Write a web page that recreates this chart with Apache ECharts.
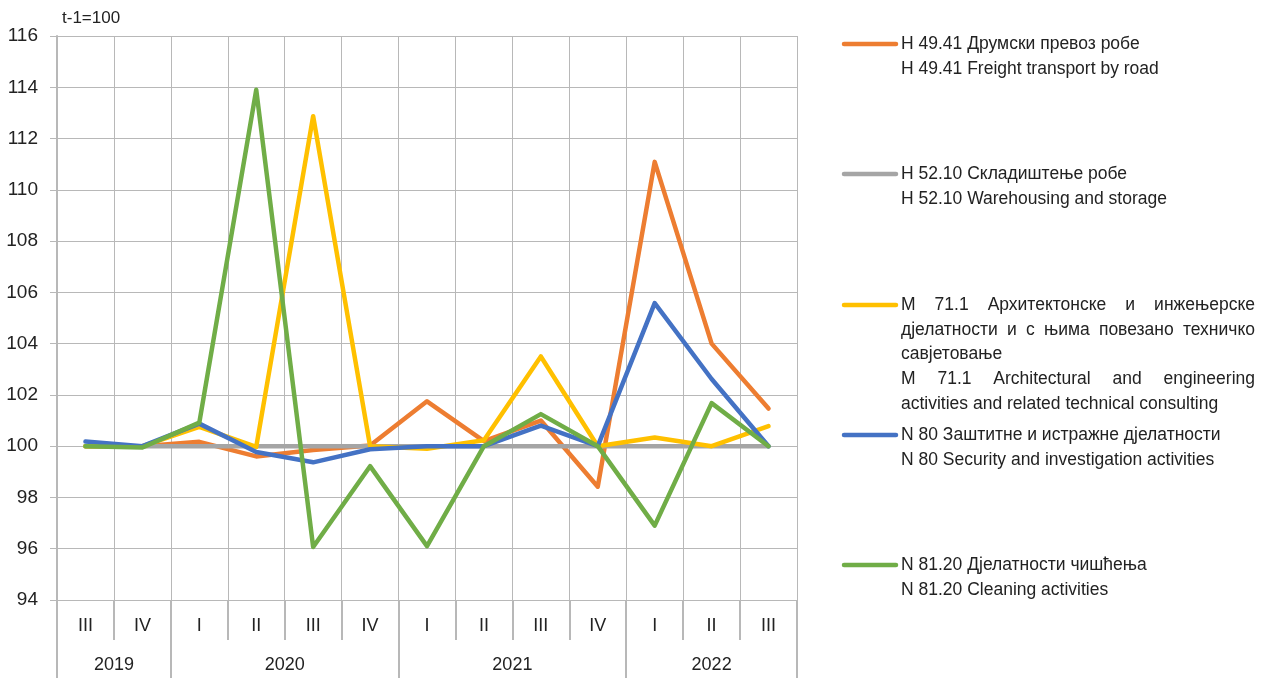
<!DOCTYPE html>
<html>
<head>
<meta charset="utf-8">
<script src="https://cdn.jsdelivr.net/npm/echarts@6/dist/echarts.min.js"></script>
<style>
html, body { margin: 0; padding: 0; background: #fff; }
#main { width: 1266px; height: 678px; }
</style>
</head>
<body>
<div id="main"></div>
<script>
var quarters = ['III', 'IV', 'I', 'II', 'III', 'IV', 'I', 'II', 'III', 'IV', 'I', 'II', 'III'];
var years = ['2019', '2020', '2021', '2022'];
var yearSpans = [2, 4, 4, 3];

var roadFreight  = [100, 100, 100.17, 99.6, 99.85, 100.03, 101.75, 100.2, 101.0, 98.42, 111.09, 104.0, 101.47];
var warehousing  = [100, 100, 100, 100, 100, 100, 100, 100, 100, 100, 100, 100, 100];
var architecture = [100, 100, 100.75, 99.97, 112.87, 100.0, 99.9, 100.23, 103.5, 100.0, 100.34, 100.0, 100.78];
var security     = [100.18, 100.0, 100.88, 99.77, 99.37, 99.88, 100.0, 100.0, 100.8, 100.0, 105.58, 102.62, 100.0];
var cleaning     = [100.0, 99.95, 100.92, 113.9, 96.07, 99.22, 96.1, 100.0, 101.25, 100.0, 96.9, 101.68, 100.0];

var seriesNames = [
    'H 49.41 Друмски превоз робе',
    'H 52.10 Складиштење робе',
    'M 71.1 Архитектонске и инжењерске дјелатности и с њима повезано техничко савјетовање',
    'N 80 Заштитне и истражне дјелатности',
    'N 81.20 Дјелатности чишћења'
];
var legendLines = [
    ['H 49.41 Друмски превоз робе', 'H 49.41 Freight transport by road'],
    ['H 52.10 Складиштење робе', 'H 52.10 Warehousing and storage'],
    ['M 71.1 Архитектонске и инжењерске', 'дјелатности и с њима повезано техничко', 'савјетовање',
     'M 71.1 Architectural and engineering', 'activities and related technical consulting'],
    ['N 80 Заштитне и истражне дјелатности', 'N 80 Security and investigation activities'],
    ['N 81.20 Дјелатности чишћења', 'N 81.20 Cleaning activities']
];
var justified = [[], [], [0, 1, 3], [], []];
var colors = ['#ED7D31', '#A5A5A5', '#FFC000', '#4472C4', '#70AD47'];
var allData = [roadFreight, warehousing, architecture, security, cleaning];

// year axis: half-quarter slots so labels can sit between categories
var yearSlots = [];
for (var i = 0; i <= quarters.length * 2; i++) yearSlots.push('');
var yearTicks = {};
var pos = 0;
yearTicks[0] = true;
years.forEach(function (y, k) {
    yearSlots[pos + yearSpans[k]] = y;
    pos += yearSpans[k] * 2;
    yearTicks[pos] = true;
});

var FONT = '17.5px "Liberation Sans", Arial, sans-serif';
var TEXT_COLOR = '#222';
var measure = document.createElement('canvas').getContext('2d');
measure.font = FONT;

var legendTop = [44, 174, 305, 435, 565];
var lineGap = 24.7;
var textX = 901, textRight = 1255;
var graphics = [];
legendLines.forEach(function (lines, k) {
    var y0 = legendTop[k];
    graphics.push({
        type: 'line',
        shape: { x1: 844, y1: y0, x2: 896, y2: y0 },
        style: { stroke: colors[k], lineWidth: 4.5, lineCap: 'round' }
    });
    lines.forEach(function (line, j) {
        var y = y0 + j * lineGap;
        if (justified[k].indexOf(j) >= 0) {
            var words = line.split(' ');
            var total = 0;
            words.forEach(function (w) { total += measure.measureText(w).width; });
            var gap = (textRight - textX - total) / (words.length - 1);
            var x = textX;
            words.forEach(function (w) {
                graphics.push({
                    type: 'text', x: x, y: y,
                    style: { text: w, font: FONT, fill: TEXT_COLOR, verticalAlign: 'middle' }
                });
                x += measure.measureText(w).width + gap;
            });
        } else {
            graphics.push({
                type: 'text', x: textX, y: y,
                style: { text: line, font: FONT, fill: TEXT_COLOR, verticalAlign: 'middle' }
            });
        }
    });
});

var myChart = echarts.init(document.getElementById('main'));

option = {
    animation: false,
    backgroundColor: '#fff',
    textStyle: { fontFamily: '"Liberation Sans", Arial, sans-serif' },
    grid: { left: 57, right: 469, top: 36, bottom: 78, containLabel: false },
    xAxis: [{
        type: 'category',
        data: quarters,
        boundaryGap: true,
        axisLine: { show: true, lineStyle: { color: '#b8b8b8', width: 1 } },
        axisTick: { show: true, length: 40, lineStyle: { color: '#b8b8b8', width: 2 } },
        axisLabel: { interval: 0, margin: 17, fontSize: 18, color: TEXT_COLOR },
        splitLine: { show: true, lineStyle: { color: '#b8b8b8', width: 1 } }
    }, {
        type: 'category',
        data: yearSlots,
        boundaryGap: false,
        position: 'bottom',
        axisLine: { show: false },
        axisTick: {
            show: true, length: 80,
            interval: function (idx) { return !!yearTicks[idx]; },
            lineStyle: { color: '#b8b8b8', width: 2 }
        },
        axisLabel: { interval: 0, margin: 56, fontSize: 18, color: TEXT_COLOR },
        splitLine: { show: false }
    }],
    yAxis: {
        type: 'value',
        min: 94,
        max: 116,
        interval: 2,
        name: 't-1=100',
        nameLocation: 'end',
        nameGap: 9,
        nameTextStyle: { align: 'left', fontSize: 17, color: TEXT_COLOR, padding: [0, 0, 0, 5] },
        axisLine: { show: true, lineStyle: { color: '#b8b8b8', width: 2 } },
        axisTick: { show: true, length: 7, lineStyle: { color: '#b8b8b8' } },
        axisLabel: { margin: 19, fontSize: 19, color: TEXT_COLOR },
        splitLine: { show: true, lineStyle: { color: '#b8b8b8', width: 1 } }
    },
    graphic: graphics,
    series: allData.map(function (d, k) {
        return {
            name: seriesNames[k],
            type: 'line',
            xAxisIndex: 0,
            data: d,
            symbol: 'none',
            lineStyle: { color: colors[k], width: 4.5, cap: 'round', join: 'round' },
            itemStyle: { color: colors[k] }
        };
    })
};

myChart.setOption(option);
</script>
</body>
</html>
